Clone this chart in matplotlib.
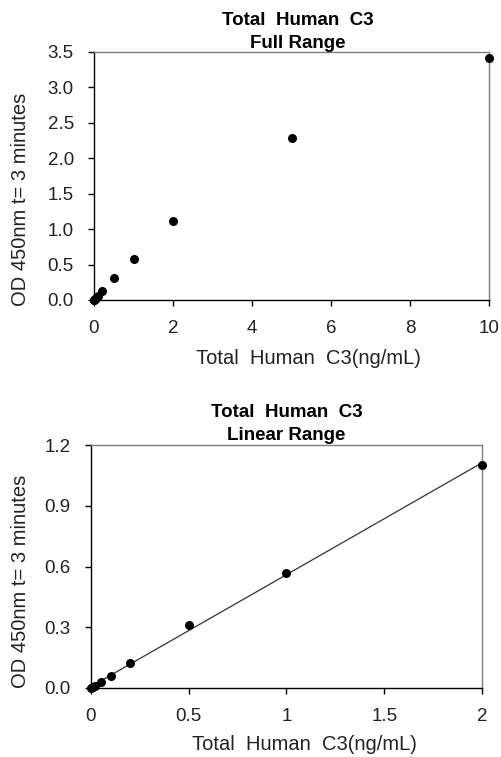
import matplotlib
matplotlib.use("Agg")
import matplotlib.pyplot as plt
import numpy as np
from matplotlib.ticker import FormatStrFormatter

plt.rcParams["font.family"] = ["Liberation Sans", "DejaVu Sans"]

# Full range data
conc_full = [0, 0.01, 0.02, 0.05, 0.1, 0.2, 0.5, 1, 2, 5, 10]
od_full = [0.0, 0.005, 0.012, 0.03, 0.06, 0.13, 0.31, 0.58, 1.11, 2.29, 3.41]

# Linear range data
conc_lin = [0, 0.01, 0.02, 0.05, 0.1, 0.2, 0.5, 1, 2]
od_lin = [0.0, 0.005, 0.01, 0.03, 0.06, 0.125, 0.31, 0.57, 1.10]

XLABEL = "Total  Human  C3(ng/mL)"
YLABEL = "OD 450nm t= 3 minutes"
YAZI = "#222222"

fig = plt.figure(figsize=(5.02, 7.57), dpi=100)
W, H = 502, 757


def stil(ax, xlab_pos, ylab_pos):
    ax.spines["top"].set_color("#7f7f7f")
    ax.spines["right"].set_color("#7f7f7f")
    ax.spines["left"].set_color("black")
    ax.spines["bottom"].set_color("black")
    for s in ax.spines.values():
        s.set_linewidth(1.0)
    ax.tick_params(direction="out", length=4.5, width=1, labelsize=13.5,
                   colors="black", labelcolor=YAZI, pad=10)
    ax.tick_params(top=False, right=False)
    ax.set_xlabel(XLABEL, fontsize=14.5, color=YAZI)
    ax.set_ylabel(YLABEL, fontsize=14.5, color=YAZI)
    ax.xaxis.set_label_coords(*xlab_pos)
    ax.yaxis.set_label_coords(*ylab_pos)


# ---- Grafik 1: full range ----
ax1 = fig.add_axes([94 / W, 1 - 300 / H, (489 - 94) / W, (300 - 52) / H])
ax1.scatter(conc_full, od_full, s=30, color="black", zorder=3, clip_on=False)
ax1.set_xlim(0, 10)
ax1.set_ylim(0, 3.5)
ax1.set_xticks([0, 2, 4, 6, 8, 10])
ax1.set_yticks(np.arange(0, 3.51, 0.5))
ax1.yaxis.set_major_formatter(FormatStrFormatter("%.1f"))
stil(ax1, (0.542, -0.197), (-0.162, 0.407))
ax1.set_title("Total  Human  C3\nFull Range", fontsize=13.5, fontweight="bold",
              pad=1.5, linespacing=1.45, x=0.515)

# ---- Grafik 2: linear range ----
ax2 = fig.add_axes([91 / W, 1 - 688 / H, (482 - 91) / W, (688 - 445) / H])
ax2.scatter(conc_lin, od_lin, s=30, color="black", zorder=3, clip_on=False)
egim, kesim = np.polyfit(conc_lin, od_lin, 1)
xs = np.array([0, max(conc_lin)])
ax2.plot(xs, egim * xs + kesim, color="#333333", linewidth=0.9, zorder=2)
ax2.set_xlim(0, 2)
ax2.set_ylim(0, 1.2)
ax2.set_xticks([0, 0.5, 1, 1.5, 2])
ax2.set_xticklabels(["0", "0.5", "1", "1.5", "2"])
ax2.set_yticks([0, 0.3, 0.6, 0.9, 1.2])
ax2.yaxis.set_major_formatter(FormatStrFormatter("%.1f"))
stil(ax2, (0.547, -0.193), (-0.156, 0.44))
ax2.set_title("Total  Human  C3\nLinear Range", fontsize=13.5, fontweight="bold",
              pad=3.5, linespacing=1.45)

plt.savefig("out.png", dpi=100)
